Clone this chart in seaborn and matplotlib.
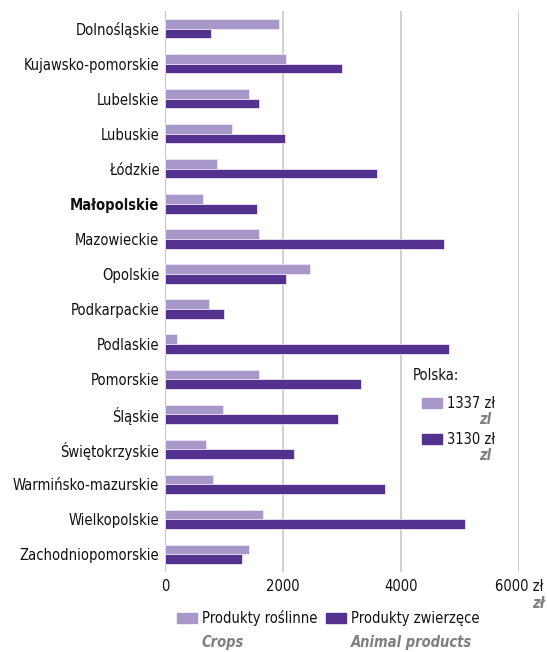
"""Horizontal grouped bars: crop vs animal product value per voivodeship."""
import matplotlib.pyplot as plt
import pandas as pd
import seaborn as sns
from matplotlib.patches import Rectangle

regions = [
    "Dolnośląskie", "Kujawsko-pomorskie", "Lubelskie", "Lubuskie", "Łódzkie",
    "Małopolskie", "Mazowieckie", "Opolskie", "Podkarpackie", "Podlaskie",
    "Pomorskie", "Śląskie", "Świętokrzyskie", "Warmińsko-mazurskie",
    "Wielkopolskie", "Zachodniopomorskie",
]
crops = [1940, 2050, 1430, 1130, 890, 650, 1600, 2460, 750, 200,
         1600, 990, 690, 820, 1660, 1430]
animal = [780, 3000, 1600, 2040, 3590, 1560, 4730, 2050, 1000, 4820,
          3330, 2940, 2180, 3730, 5080, 1300]
series = ["Produkty roślinne", "Produkty zwierzęce"]
series_en = ["Crops", "Animal products"]
polska = ["1337 zł", "3130 zł"]
xticks = [0, 2000, 4000, 6000]
xticklabels = ["0", "2000", "4000", "6000 zł"]

colors = ["#a898c9", "#54308f"]
grey = "#7f7f7f"

df = pd.DataFrame({
    "region": regions * 2,
    "value": crops + animal,
    "type": [series[0]] * len(regions) + [series[1]] * len(regions),
})

sns.set_theme(style="white")
plt.rcParams["font.family"] = ["DejaVu Sans"]
plt.rcParams["font.stretch"] = "condensed"
FS = 10.5

fig = plt.figure(figsize=(5.47, 6.52), dpi=100)
ax = fig.add_axes([0.3016, 0.1227, 0.6472, 0.8603])

sns.barplot(data=df, y="region", x="value", hue="type", palette=colors,
            orient="h", width=0.55, dodge=True, legend=False, ax=ax,
            saturation=1, edgecolor="#ece6f4", linewidth=0.6, errorbar=None)

ax.set_xlim(0, 6000)
ax.set_ylim(len(regions) - 0.5, -0.5)
ax.set_xticks(xticks)
ax.set_xticklabels(xticklabels, fontsize=FS, color="#111111")
ax.set_xlabel("")
ax.set_ylabel("")
ax.tick_params(axis="y", labelsize=FS, labelcolor="#111111", length=0, pad=4)
ax.tick_params(axis="x", length=0, pad=5)
for lbl in ax.get_yticklabels():
    if lbl.get_text() == "Małopolskie":
        lbl.set_fontweight("bold")
for s in ax.spines.values():
    s.set_visible(False)
ax.set_axisbelow(True)
ax.grid(axis="x", color="#c8c8c8", lw=1.2)
ax.grid(axis="y", visible=False)
ax.axvline(0, color="#b8b8b8", lw=1.4, zorder=0)

# "zł" translation under last tick
fig.text(545 / 547, 1 - 604 / 652, "zł", ha="right", va="center",
         fontsize=FS, style="italic", weight="bold", color=grey)

# Polska inset legend
fig.text(413 / 547, 1 - 376 / 652, "Polska:", ha="left", va="center",
         fontsize=FS, color="#111111")
for i, (col, txt) in enumerate(zip(colors, polska)):
    y = 403 + i * 36
    fig.patches.append(Rectangle((422 / 547, 1 - (y + 5) / 652), 20 / 547, 10 / 652,
                                 transform=fig.transFigure, color=col))
    fig.text(447 / 547, 1 - y / 652, txt, ha="left", va="center",
             fontsize=FS, color="#111111")
    fig.text(491 / 547, 1 - (y + 17) / 652, "zl", ha="right", va="center",
             fontsize=FS, style="italic", weight="bold", color=grey)

# bottom legend
for col, txt, en, x0 in zip(colors, series, series_en, [177, 326]):
    fig.patches.append(Rectangle((x0 / 547, 1 - 623 / 652), 20 / 547, 10 / 652,
                                 transform=fig.transFigure, color=col))
    fig.text((x0 + 25) / 547, 1 - 618 / 652, txt, ha="left", va="center",
             fontsize=FS, color="#111111")
    fig.text((x0 + 25) / 547, 1 - 643 / 652, en, ha="left", va="center",
             fontsize=FS, style="italic", weight="bold", color=grey)

fig.savefig("out.png", dpi=100)
